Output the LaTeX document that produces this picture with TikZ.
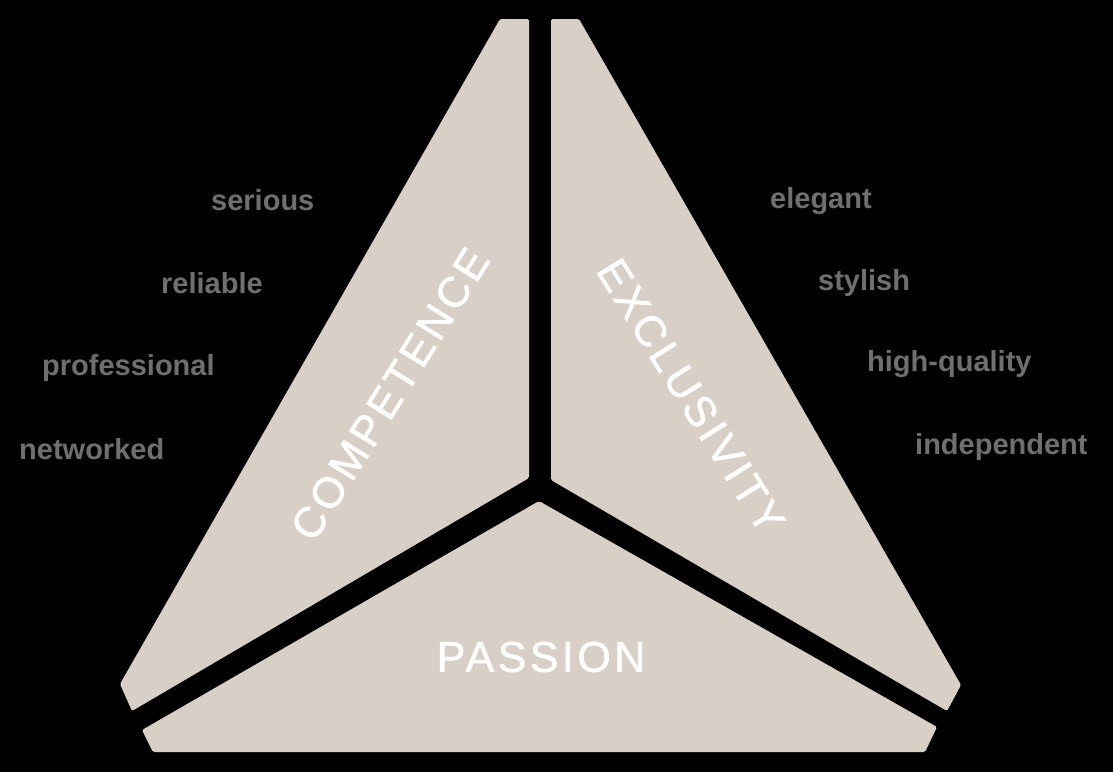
\documentclass[tikz,border=0pt]{standalone}
\usepackage{fontspec}
\setmainfont{Liberation Sans}
\newfontfamily\wordfont{Liberation Sans Bold}
\newfontfamily\capfont[LetterSpace=8,FakeBold=1.3]{Liberation Sans}
\definecolor{beige}{HTML}{D8CFC6}
\definecolor{wordgray}{HTML}{6F6F6F}
\tikzset{
  piece/.style={fill=beige, rounded corners=1.5pt},
  word/.style={text=wordgray, font=\wordfont\fontsize{29}{34}\selectfont, anchor=base west, inner sep=0pt},
  biglabel/.style={text=white, font=\capfont\fontsize{43}{50}\selectfont, inner sep=0pt},
}
\begin{document}
\begin{tikzpicture}[x=1pt,y=-1pt]
\fill[black] (0,0) rectangle (1113,772);
\useasboundingbox (0,0) rectangle (1113,772);
% pieces
\fill[piece] (500,19) -- (529,19) -- (529,478) -- (132,711) -- (120,684) -- cycle;
\fill[piece] (551,19) -- (579,19) -- (961,685) -- (947,711) -- (551,480) -- cycle;
\fill[piece] (539,501) -- (937,727) -- (925,752) -- (153,752) -- (142,730) -- cycle;
% big labels
\node[biglabel, rotate=58] (comp) at (390,394) {COMPETENCE};
\node[biglabel, rotate=-58] (excl) at (691,396) {EXCLUSIVITY};
\node[biglabel] (pass) at (541,657) {PASSION};
% words left
\node[word] (serious) at (211,210) {serious};
\node[word] (reliable) at (161,293) {reliable};
\node[word] (professional) at (42,375) {professional};
\node[word] (networked) at (19,459) {networked};
% words right
\node[word] (elegant) at (770,208) {elegant};
\node[word] (stylish) at (818,290) {stylish};
\node[word] (highquality) at (867,371) {high-quality};
\node[word] (independent) at (915,454) {independent};
\end{tikzpicture}
\end{document}
